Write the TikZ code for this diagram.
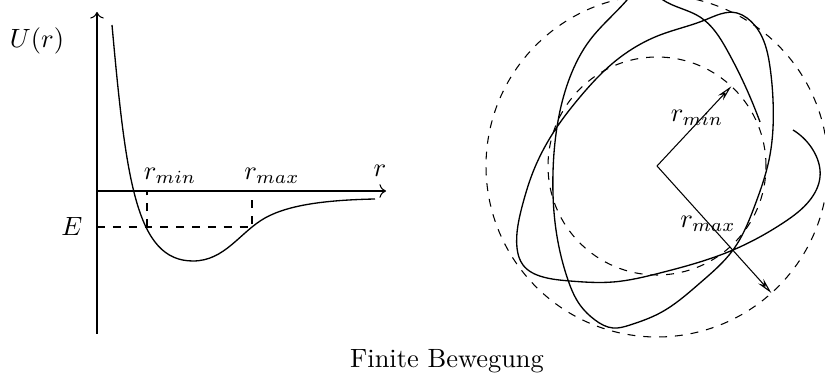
\documentclass[tikz,border=0pt]{standalone}
\usetikzlibrary{arrows.meta,hobby}
\tikzset{
  curve/.style={line width=0.5pt},
  guide/.style={dashed},
  vec/.style={-{Stealth[open,length=6pt,width=2.6pt]}}
}
\begin{document}
\begin{tikzpicture}[x=0.1331cm,y=0.1331cm]
\useasboundingbox (0,0) rectangle (82.5,38);
\clip (0,0) rectangle (82.5,38);

% potential
\coordinate (O) at (9.7,18.9);
\coordinate (ybot) at (9.7,4.6);
\coordinate (ytop) at (9.7,36.8);
\coordinate (xend) at (38.6,18.9);
\coordinate (Emin) at (14.7,15.3);
\coordinate (Emax) at (25.2,15.3);

\draw[->] (ybot) -- (ytop);
\draw[->] (O) -- (xend);
\draw[curve] (11.2,35.5) .. controls (12.6,20) and (13.6,11.9) .. (19.3,11.9)
  .. controls (22.5,11.9) and (24,14.8) .. (26.5,16.2)
  .. controls (29,17.6) and (33,18.0) .. (37.5,18.1);
\draw[guide] (O |- Emin) -- (Emax) -- (Emax |- O);
\draw[guide] (Emin) -- (Emin |- O);

\node at (3.7,33.9) {$U(r)$};
\node at (7.2,15.4) {$E$};
\node[anchor=base] at (17.0,20.0) {$r_{min}$};
\node[anchor=base] at (27.2,20.0) {$r_{max}$};
\node[anchor=base] at (38.0,20.3) {$r$};

% orbit
\coordinate (C) at (65.7,21.4);
\draw[guide] (C) circle (17.1);
\draw[guide] (C) circle (10.9);
\path (C) ++(47:10.9) coordinate (Pmin);
\path (C) ++(-48:17.1) coordinate (Pmax);
\draw[vec] (C) -- (Pmin);
\draw[vec] (C) -- (Pmax);

\draw[curve,use Hobby shortcut] (79.3,25.0) .. (81.3,23.0) .. (82.0,20.3)
  .. (81.0,18.0) .. (78.3,15.7) .. (73.3,13.0) .. (66.0,10.7) .. (61.3,9.8)
  .. (57.0,9.9) .. (54.3,10.3) .. (52.3,11.5) .. (51.7,13.2) .. (51.8,15.5)
  .. (52.3,17.7) .. (53.3,20.8) .. (55.7,25.3) .. (58.0,28.3) .. (61.3,31.7)
  .. (66.0,34.5) .. (70.5,36.0) .. (73.7,36.7) .. (74.7,36.2) .. (76.0,34.7)
  .. (77.0,31.3) .. (77.3,28.0) .. (76.9,22.0) .. (75.5,17.5) .. (73.3,13.0)
  .. (70.0,9.7) .. (66.0,6.7) .. (63.0,5.5) .. (61.3,5.2) .. (59.5,6.0)
  .. (58.0,7.5) .. (56.8,10.0) .. (55.6,15.0) .. (55.3,20.8) .. (55.7,25.3)
  .. (57.0,30.3) .. (59.0,34.0) .. (62.7,38.0) .. (64.0,39.0) .. (66.3,38.0)
  .. (70.0,36.3) .. (72.7,33.0) .. (74.7,29.0) .. (76.0,25.8);

\node at (69.7,26.2) {$r_{min}$};
\node at (70.8,15.6) {$r_{max}$};

\node[anchor=base] at (44.7,1.2) {Finite Bewegung};
\end{tikzpicture}
\end{document}
